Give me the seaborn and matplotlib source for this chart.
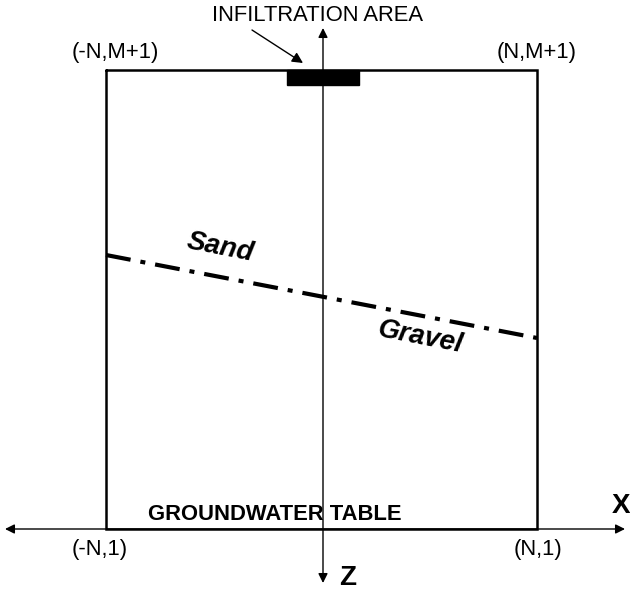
import matplotlib
matplotlib.use("Agg")
import matplotlib.pyplot as plt
from matplotlib.patches import Rectangle
import seaborn as sns

# diagram geometry, in picture pixels (y grows downwards)
box_x = [106, 537, 537, 106, 106]
box_y = [70, 70, 529, 529, 70]
interface_x = [106, 537]          # sand / gravel boundary
interface_y = [255, 338]
infiltration_x = [287, 359]
infiltration_y = [70, 85]
z_axis = [323, 28, 583]           # x, top tip, bottom tip
x_axis = [529, 5, 625]            # y, left tip, right tip

labels = ["INFILTRATION AREA", "(-N,M+1)", "(N,M+1)", "(-N,1)", "(N,1)"]
label_x = [318, 115, 537, 100, 538]
label_y = [21, 58, 58, 555, 555]

sns.set_style("white")
plt.rcParams["font.family"] = ["Liberation Sans", "DejaVu Sans"]
plt.rcParams["text.color"] = "black"

fig = plt.figure(figsize=(6.3, 5.99), dpi=100)
ax = fig.add_axes([0, 0, 1, 1])

# domain box
ax.plot(box_x, box_y, color="black", lw=1.8, solid_joinstyle="miter")

# sand / gravel interface
sns.lineplot(x=interface_x, y=interface_y, ax=ax, color="black", lw=3,
             linestyle=(0, (6, 2.4, 1.2, 2.4)))

# infiltration area
ax.add_patch(Rectangle((infiltration_x[0], infiltration_y[0]),
                       infiltration_x[1] - infiltration_x[0],
                       infiltration_y[1] - infiltration_y[0],
                       color="black", zorder=3))

# axes arrows
ax.annotate("", xy=(z_axis[0], z_axis[1]), xytext=(z_axis[0], z_axis[2]),
            arrowprops=dict(arrowstyle="<|-|>", color="black", lw=1,
                            mutation_scale=14, shrinkA=0, shrinkB=0))
ax.annotate("", xy=(x_axis[1], x_axis[0]), xytext=(x_axis[2], x_axis[0]),
            arrowprops=dict(arrowstyle="<|-|>", color="black", lw=1,
                            mutation_scale=14, shrinkA=0, shrinkB=0))
# pointer to infiltration area
ax.annotate("", xy=(303, 63), xytext=(252, 30),
            arrowprops=dict(arrowstyle="-|>", color="black", lw=1,
                            mutation_scale=16, shrinkA=0, shrinkB=0))

for t, x, y in zip(labels, label_x, label_y):
    ax.text(x, y, t, ha="center", va="baseline", fontsize=15.8, color="black")

ax.text(275, 520, "GROUNDWATER TABLE", ha="center", va="baseline",
        fontsize=15.8, fontweight="bold", color="black")
ax.text(621, 513, "X", ha="center", va="baseline", fontsize=20,
        fontweight="bold", color="black")
ax.text(348, 585, "Z", ha="center", va="baseline", fontsize=20,
        fontweight="bold", color="black")
ax.text(220, 248, "Sand", ha="center", va="center", rotation=-11,
        rotation_mode="anchor", fontsize=20, fontweight="bold",
        style="italic", color="black")
ax.text(420, 337, "Gravel", ha="center", va="center", rotation=-11,
        rotation_mode="anchor", fontsize=20, fontweight="bold",
        style="italic", color="black")

ax.set_xlim(0, 630)
ax.set_ylim(599, 0)
ax.axis("off")

fig.savefig("out.png", dpi=100)
